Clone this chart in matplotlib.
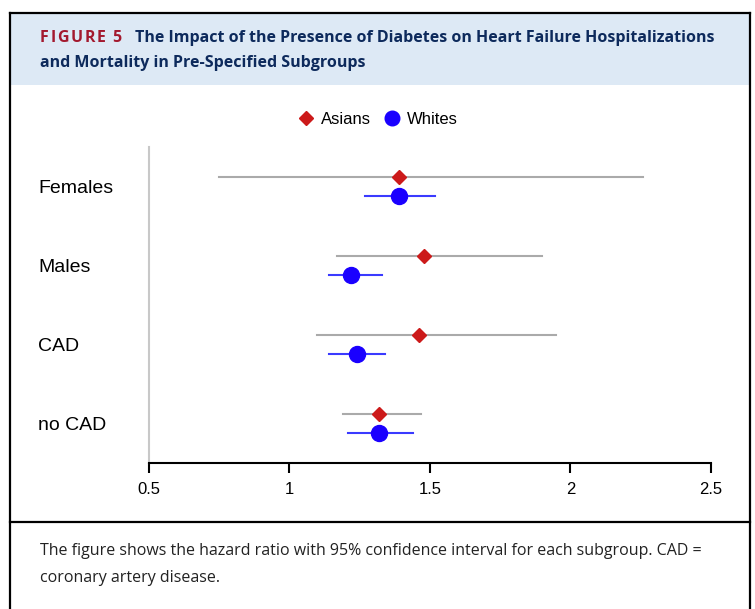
import matplotlib.pyplot as plt
from matplotlib.lines import Line2D
from matplotlib.patches import Rectangle
from matplotlib import transforms

# Hazard ratios (95% CI) for diabetes, by subgroup
subgroups = ['Females', 'Males', 'CAD', 'no CAD']
asian_hr = [1.39, 1.48, 1.46, 1.32]
asian_lo = [0.75, 1.17, 1.10, 1.19]
asian_hi = [2.26, 1.90, 1.95, 1.47]
white_hr = [1.39, 1.22, 1.24, 1.32]
white_lo = [1.27, 1.14, 1.14, 1.21]
white_hi = [1.52, 1.33, 1.34, 1.44]
xticks = [0.5, 1, 1.5, 2, 2.5]

red = '#cc1a1a'
blue = '#1a00ff'
navy = '#0d2a5c'
W, H = 755, 609

plt.rcParams['font.family'] = ['Liberation Sans', 'DejaVu Sans']
fig = plt.figure(figsize=(W / 100, H / 100), dpi=100)

def fx(px):
    return px / W

def fy(py):
    return 1 - py / H

# header band + frame
fig.patches.append(Rectangle((fx(10), fy(85)), fx(740), fy(13) - fy(85),
                             transform=fig.transFigure, facecolor='#dde9f5',
                             edgecolor='none', zorder=0))
for xs, ys in [((10, 750), (13, 13)), ((10, 10), (13, 609)),
               ((750, 750), (13, 609)), ((10, 750), (522, 522))]:
    fig.add_artist(Line2D([fx(x) for x in xs], [fy(y) for y in ys],
                          transform=fig.transFigure, color='black', lw=1.6))

# "FIGURE 5" with slight letter spacing, one glyph at a time
x = 40
fig.canvas.draw()
renderer = fig.canvas.get_renderer()
for ch in 'FIGURE 5':
    t = fig.text(fx(x), fy(38), ch, color='#a3192e', fontsize=11.5,
                 fontweight='bold', family=['Open Sans'], va='center')
    w = t.get_window_extent(renderer).width if ch != ' ' else 4
    x += w + 1.6

fig.text(fx(135), fy(38),
         'The Impact of the Presence of Diabetes on Heart Failure Hospitalizations',
         color=navy, fontsize=11.5, fontweight='bold', family=['Open Sans'],
         va='center')
fig.text(fx(40), fy(63), 'and Mortality in Pre-Specified Subgroups',
         color=navy, fontsize=11.5, fontweight='bold', family=['Open Sans'],
         va='center')

fig.text(fx(40), fy(551),
         'The figure shows the hazard ratio with 95% confidence interval for each subgroup. CAD =',
         color='#222222', fontsize=11.5, family=['Open Sans'], va='center')
fig.text(fx(40), fy(578), 'coronary artery disease.',
         color='#222222', fontsize=11.5, family=['Open Sans'], va='center')

# forest plot
ax = fig.add_axes([fx(148.5), fy(463), fx(711) - fx(148.5), fy(147) - fy(463)])
ax.set_xlim(0.5, 2.5)
ax.set_ylim(0.5, 4.5)
label_tr = transforms.blended_transform_factory(fig.transFigure, ax.transData)

ys = [4, 3, 2, 1]
off = 0.125
for i, y in enumerate(ys):
    ax.plot([asian_lo[i], asian_hi[i]], [y + off, y + off], color='#aaaaaa',
            lw=1.5, zorder=1)
    ax.plot(asian_hr[i], y + off, marker='D', color=red, markersize=7.5,
            linestyle='none', zorder=3)
    ax.plot([white_lo[i], white_hi[i]], [y - off, y - off], color='#3a3aff',
            lw=1.5, zorder=1)
    ax.plot(white_hr[i], y - off, marker='o', color=blue, markersize=11.5,
            linestyle='none', zorder=3)
    fig.text(fx(38), y - 0.02, subgroups[i], transform=label_tr,
             fontsize=14, va='center', ha='left')

ax.set_xticks(xticks)
ax.set_xticklabels(['0.5', '1', '1.5', '2', '2.5'], fontsize=12)
ax.set_yticks([])
ax.tick_params(axis='x', length=7, width=1.5, pad=7)
for s in ['top', 'right']:
    ax.spines[s].set_visible(False)
ax.spines['bottom'].set_linewidth(1.5)
ax.spines['left'].set_color('#c8c8c8')
ax.spines['left'].set_linewidth(1.5)
ax.patch.set_alpha(0)

handles = [Line2D([], [], marker='D', color=red, linestyle='none', markersize=7),
           Line2D([], [], marker='o', color=blue, linestyle='none', markersize=10.5)]
fig.legend(handles, ['Asians', 'Whites'], loc='center', ncol=2,
           bbox_to_anchor=(fx(377), fy(119)), frameon=False, fontsize=12,
           handletextpad=0.3, columnspacing=0.7, handlelength=1.2)

fig.savefig('out.png', dpi=100)
